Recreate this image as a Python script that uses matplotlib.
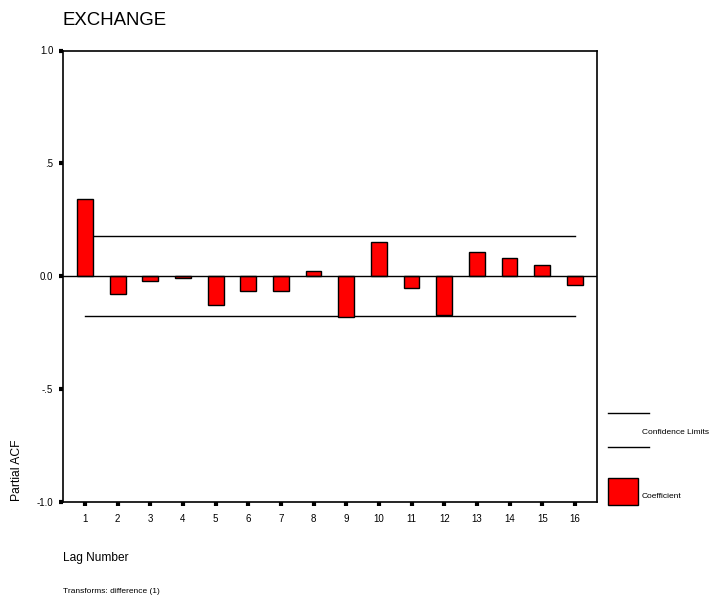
import numpy as np
import matplotlib
matplotlib.use('Agg')
import matplotlib.pyplot as plt
from matplotlib.patches import Rectangle
from matplotlib.lines import Line2D

plt.rcParams['font.family'] = ['Liberation Sans', 'DejaVu Sans']

# partial autocorrelations of the differenced series
lags = np.arange(1, 17)
pacf = [0.340, -0.082, -0.024, -0.008, -0.130, -0.068, -0.068, 0.022,
        -0.180, 0.152, -0.053, -0.175, 0.108, 0.079, 0.049, -0.038]
conf_limit = 0.177
y_ticks = [-1.0, -0.5, 0.0, 0.5, 1.0]
y_tick_labels = ['-1.0', '-.5', '0.0', '.5', '1.0']

W, H = 712, 596
fig = plt.figure(figsize=(W / 100, H / 100), dpi=100)
ax = fig.add_axes([63 / W, (H - 501.5) / H, (596.5 - 63) / W, (501.5 - 50.5) / H])

ax.bar(lags, pacf, width=0.48, color='#ff0000', edgecolor='black', linewidth=1.0, zorder=3)
ax.axhline(0, color='black', linewidth=1.0, zorder=4)
ax.plot([lags[0], lags[-1]], [conf_limit, conf_limit], color='black', linewidth=1.0, zorder=2)
ax.plot([lags[0], lags[-1]], [-conf_limit, -conf_limit], color='black', linewidth=1.0, zorder=2)

ax.set_xlim(0.326, 16.66)
ax.set_ylim(-1.0, 1.0)
ax.set_xticks(lags)
ax.set_xticklabels([str(l) for l in lags])
ax.set_yticks(y_ticks)
ax.set_yticklabels(y_tick_labels)
ax.tick_params(axis='both', direction='out', length=3, width=3, labelsize=7, colors='black', pad=4)
ax.tick_params(axis='x', pad=6)
for s in ax.spines.values():
    s.set_linewidth(1.2)

# title, axis labels and footnote
fig.text(62 / W, 1 - 25 / H, 'EXCHANGE', fontsize=13.4, ha='left', va='baseline')
fig.text(63 / W, 1 - 561 / H, 'Lag Number', fontsize=8.6, ha='left', va='baseline')
fig.text(63 / W, 1 - 593 / H, 'Transforms: difference (1)', fontsize=6.0, ha='left', va='baseline')
fig.text(17 / W, 1 - 501 / H, 'Partial ACF', fontsize=8.7, rotation=90, ha='center', va='bottom')

# legend drawn beside the plot
fig.add_artist(Line2D([608 / W, 649 / W], [1 - 413 / H, 1 - 413 / H], color='black', linewidth=1.0))
fig.add_artist(Line2D([608 / W, 649 / W], [1 - 447 / H, 1 - 447 / H], color='black', linewidth=1.0))
fig.text(642 / W, 1 - 433 / H, 'Confidence Limits', fontsize=6, ha='left', va='center')
fig.add_artist(Rectangle((608 / W, 1 - 505 / H), 30 / W, 27 / H, facecolor='#ff0000',
                         edgecolor='black', linewidth=1.0, transform=fig.transFigure))
fig.text(642 / W, 1 - 496 / H, 'Coefficient', fontsize=6, ha='left', va='center')

fig.savefig('out.png', dpi=100)
